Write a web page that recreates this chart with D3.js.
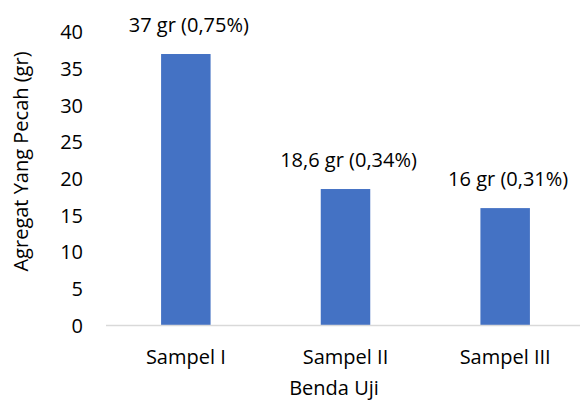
<!DOCTYPE html>
<html><head><meta charset="utf-8">
<script src="https://cdn.jsdelivr.net/npm/d3@7"></script>
<style>body{margin:0;background:#fff}</style>
</head><body>
<svg id="c" width="582" height="401"></svg>
<script>
const categories = ["Sampel I", "Sampel II", "Sampel III"];
const values = [37, 18.6, 16];
const labels = ["37 gr (0,75%)", "18,6 gr (0,34%)", "16 gr (0,31%)"];
const yTicks = [0, 5, 10, 15, 20, 25, 30, 35, 40];
const yTitle = "Agregat Yang Pecah (gr)";
const xTitle = "Benda Uji";

const svg = d3.select("#c");
const font = "'Open Sans', Lato, sans-serif";
const fs = 20;
const x = d3.scaleBand().domain(categories).range([106, 585]).paddingInner(0.69).paddingOuter(0.345);
const y = d3.scaleLinear().domain([0, 40]).range([325.5, 32]);

// bars
svg.selectAll("rect.bar").data(values).join("rect")
  .attr("x", (d, i) => x(categories[i]))
  .attr("y", d => y(d))
  .attr("width", x.bandwidth())
  .attr("height", d => y(0) - y(d))
  .attr("fill", "#4472C4");

// x axis line
svg.append("line").attr("x1", 106).attr("x2", 580).attr("y1", y(0)).attr("y2", y(0))
  .attr("stroke", "#d9d9d9").attr("stroke-width", 1.5);

// y ticks
svg.selectAll("text.yt").data(yTicks).join("text")
  .attr("x", 83).attr("y", d => y(d)).attr("dy", "0.36em")
  .attr("text-anchor", "end").attr("font-family", font).attr("font-size", fs).attr("fill", "#000")
  .text(d => d);

// x labels
svg.selectAll("text.xt").data(categories).join("text")
  .attr("x", d => x(d) + x.bandwidth() / 2).attr("y", 364)
  .attr("text-anchor", "middle").attr("font-family", font).attr("font-size", fs).attr("fill", "#000")
  .text(d => d);

// data labels
svg.selectAll("text.dl").data(values).join("text")
  .attr("x", (d, i) => x(categories[i]) + x.bandwidth() / 2 + 3)
  .attr("y", d => y(d) - 22)
  .attr("text-anchor", "middle").attr("font-family", font).attr("font-size", fs).attr("fill", "#000")
  .text((d, i) => labels[i]);

// titles
svg.append("text").attr("transform", "translate(27.5,161.5) rotate(-90)")
  .attr("text-anchor", "middle").attr("font-family", font).attr("font-size", fs).attr("fill", "#000")
  .text(yTitle);
svg.append("text").attr("x", 334).attr("y", 395)
  .attr("text-anchor", "middle").attr("font-family", font).attr("font-size", fs).attr("fill", "#000")
  .text(xTitle);
</script>
</body></html>
